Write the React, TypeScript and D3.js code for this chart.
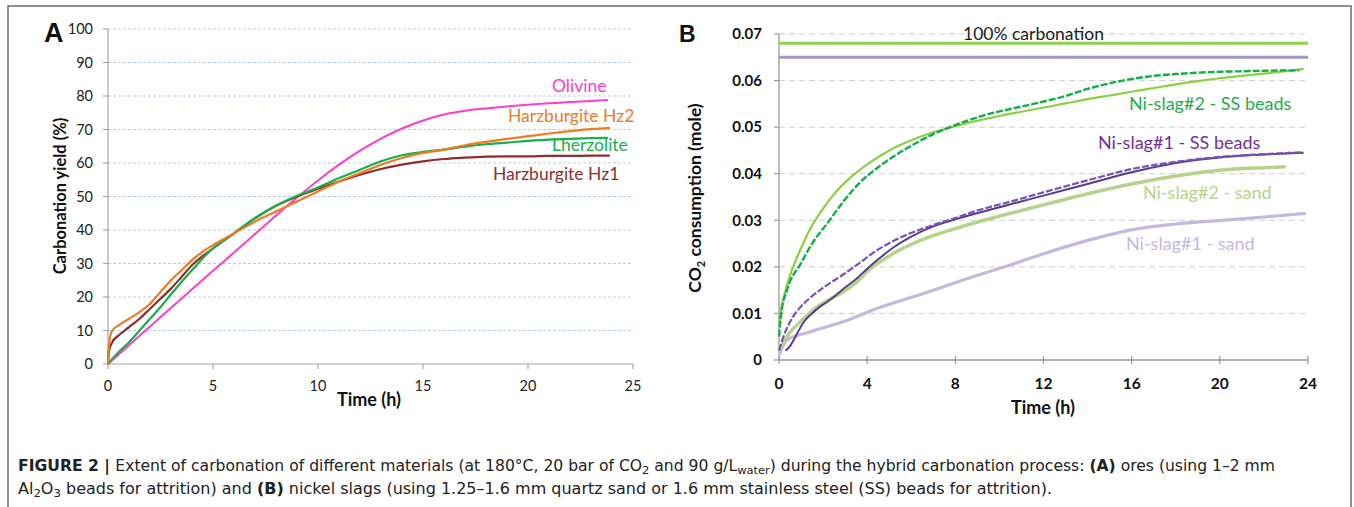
import React from "react";
import * as d3 from "d3";

// ---------- Panel A data ----------
const aXTicks = [0, 5, 10, 15, 20, 25];
const aYTicks = [0, 10, 20, 30, 40, 50, 60, 70, 80, 90, 100];

const olivineT = [0, 1, 2, 3, 4, 5, 6, 7, 8, 9, 10, 11, 12, 13, 14, 15, 16, 17, 18, 19, 20, 21, 22, 23, 23.8];
const olivineV = [0, 5.6, 11.2, 16.8, 22.3, 27.8, 33.3, 38.8, 44.3, 49.7, 54.8, 59.5, 63.7, 67.3, 70.3, 72.7, 74.5, 75.6, 76.3, 76.9, 77.4, 77.8, 78.2, 78.5, 78.8];

const hz2T = [0, 0.05, 0.2, 0.5, 1, 1.5, 2, 2.5, 3, 3.5, 4, 4.5, 5, 6, 7, 8, 9, 10, 11, 12, 13, 14, 15, 16, 17, 18, 19, 20, 21, 22, 23, 23.9];
const hz2V = [0, 6, 10, 11.5, 13.5, 15.5, 18, 21.5, 25, 28, 31, 33.5, 35.5, 39, 42.5, 45.5, 48.5, 51.5, 54.5, 57, 59.5, 61.5, 63, 64, 65.3, 66.3, 67.2, 68, 68.8, 69.5, 70.1, 70.5];

const lherzT = [0, 0.2, 0.5, 1, 1.5, 2, 2.5, 3, 3.5, 4, 4.5, 5, 6, 7, 8, 9, 10, 11, 12, 13, 14, 15, 16, 17, 18, 19, 20, 21, 22, 23, 23.8];
const lherzV = [0, 1.5, 3.5, 6.5, 10, 13.5, 17, 20.8, 24.5, 28, 31.5, 34.5, 39, 43.5, 47.3, 50.2, 52.7, 55.5, 58, 60.5, 62.3, 63.3, 64, 64.9, 65.6, 66.1, 66.6, 67, 67.2, 67.4, 67.5];

const hz1T = [0, 0.05, 0.2, 0.5, 1, 1.5, 2, 2.5, 3, 3.5, 4, 5, 6, 7, 8, 9, 10, 11, 12, 13, 14, 15, 16, 17, 18, 19, 20, 21, 22, 23, 23.9];
const hz1V = [0, 4, 6.5, 8.5, 11, 13.5, 16.5, 19.5, 22.5, 26, 29.5, 34.5, 39, 43.5, 47.2, 50, 52.3, 54.5, 56.5, 58.2, 59.5, 60.5, 61.2, 61.6, 61.9, 62, 62, 62.1, 62.1, 62.2, 62.2];

// ---------- Panel B data ----------
const bXTicks = [0, 4, 8, 12, 16, 20, 24];
const bYTicks = [0, 0.01, 0.02, 0.03, 0.04, 0.05, 0.06, 0.07];
const bYTickLabels = ["0", "0.01", "0.02", "0.03", "0.04", "0.05", "0.06", "0.07"];

const full2 = 0.068; // 100% carbonation Ni-slag#2
const full1 = 0.065; // 100% carbonation Ni-slag#1

const limeT = [0, 0.1, 0.3, 0.6, 1, 1.4, 2, 2.6, 3.2, 4, 5, 6, 7, 8, 9, 10, 11, 12, 13, 14, 15, 16, 17, 18, 19, 20, 21, 22, 23, 23.8];
const limeV = [0.008, 0.011, 0.015, 0.0195, 0.024, 0.028, 0.0325, 0.0362, 0.039, 0.042, 0.045, 0.0472, 0.0489, 0.0502, 0.0514, 0.0524, 0.0533, 0.0542, 0.0551, 0.056, 0.0568, 0.0576, 0.0584, 0.0592, 0.0599, 0.0605, 0.061, 0.0615, 0.062, 0.0625];

const ss2T = [0, 0.1, 0.36, 1, 1.5, 2.2, 3, 3.67, 4.5, 5.2, 6, 7, 8.2, 9.5, 10.5, 12, 13, 14, 15.6, 17, 18, 19, 20, 21, 22, 23, 23.6];
const ss2V = [0.005, 0.01, 0.015, 0.0208, 0.025, 0.0294, 0.0345, 0.0381, 0.0414, 0.0437, 0.046, 0.0485, 0.0508, 0.0528, 0.0539, 0.0555, 0.0567, 0.0582, 0.06, 0.061, 0.0614, 0.0617, 0.0619, 0.062, 0.0621, 0.0622, 0.0622];

const ss1T = [0, 0.2, 0.6, 1, 1.4, 2, 2.9, 3.5, 4.4, 5.5, 6.7, 8, 9, 10.5, 12, 14.1, 16, 18.6, 20, 22, 23.7];
const ss1V = [0.002, 0.005, 0.009, 0.0115, 0.0133, 0.0155, 0.0183, 0.0203, 0.0234, 0.0263, 0.0285, 0.0305, 0.0321, 0.034, 0.036, 0.0387, 0.041, 0.0429, 0.0436, 0.0442, 0.0446];

const ss1bT = [0.3, 0.5, 0.8, 1.1, 1.5, 1.85, 2.4, 2.9, 3.5, 4, 4.6, 5.2, 6, 7, 8, 10, 12, 14, 16, 18, 20, 22, 23.8];
const ss1bV = [0.002, 0.003, 0.0055, 0.008, 0.01, 0.0114, 0.0132, 0.0152, 0.0174, 0.0196, 0.022, 0.0242, 0.0265, 0.0287, 0.0302, 0.0328, 0.0353, 0.0378, 0.0403, 0.0423, 0.0435, 0.0441, 0.0445];

const sand2T = [0, 0.36, 1.1, 1.85, 2.4, 2.9, 3.5, 4, 5.2, 6.7, 8.2, 10.5, 12, 14.1, 16, 18, 20.1, 22, 23];
const sand2V = [0.002, 0.005, 0.0088, 0.0118, 0.0133, 0.0146, 0.0166, 0.019, 0.0229, 0.0262, 0.0285, 0.0315, 0.0333, 0.0358, 0.0378, 0.0395, 0.0408, 0.0413, 0.0415];

const sand1T = [0, 0.36, 1.4, 2.9, 4.4, 6.7, 9, 10.5, 11.8, 14.1, 16.3, 18, 20.1, 22, 23.9];
const sand1V = [0.001, 0.0043, 0.006, 0.0082, 0.011, 0.0145, 0.0182, 0.0204, 0.0225, 0.0258, 0.0282, 0.0292, 0.03, 0.0307, 0.0315];

const FONT = "Lato, 'Open Sans', sans-serif";

function zip(t: number[], v: number[]): [number, number][] {
  return t.map((x, i) => [x, v[i]]);
}

export default function App() {
  // Panel A scales
  const ax = d3.scaleLinear().domain([0, 25]).range([108, 633]);
  const ay = d3.scaleLinear().domain([0, 100]).range([364, 29]);
  const aLine = d3
    .line<[number, number]>()
    .x((d) => ax(d[0]))
    .y((d) => ay(d[1]))
    .curve(d3.curveMonotoneX);

  // Panel B scales
  const bx = d3.scaleLinear().domain([0, 24]).range([779, 1308]);
  const by = d3.scaleLinear().domain([0, 0.07]).range([360, 34]);
  const bLine = d3
    .line<[number, number]>()
    .x((d) => bx(d[0]))
    .y((d) => by(d[1]))
    .curve(d3.curveMonotoneX);

  const aSeries = [
    { t: olivineT, v: olivineV, c: "#ff3ccc", w: 2 },
    { t: hz1T, v: hz1V, c: "#8e2f2f", w: 2.2 },
    { t: lherzT, v: lherzV, c: "#16b04a", w: 2.2 },
    { t: hz2T, v: hz2V, c: "#ef7a22", w: 2.2 },
  ];

  const bSeries = [
    { t: sand1T, v: sand1V, c: "#c6b7df", w: 3.2, dash: "" },
    { t: sand2T, v: sand2V, c: "#b5d38a", w: 3.5, dash: "" },
    { t: ss1bT, v: ss1bV, c: "#5a3c8c", w: 2, dash: "" },
    { t: ss1T, v: ss1V, c: "#7b52b3", w: 2.2, dash: "7,2" },
    { t: limeT, v: limeV, c: "#8ccf45", w: 2.2, dash: "" },
    { t: ss2T, v: ss2V, c: "#14ad4a", w: 2.4, dash: "7,2" },
  ];

  return (
    <svg
      width={1354}
      height={507}
      style={{ position: "absolute", left: 0, top: 0, background: "#fff" }}
      fontFamily={FONT}
    >
      <rect x={0} y={0} width={1354} height={507} fill="#fff" />
      <rect x={8} y={6} width={1343} height={540} fill="none" stroke="#6b6b6b" strokeWidth={1.5} />

      {/* ---------------- Panel A ---------------- */}
      <g>
        {aYTicks.slice(1).map((t) => (
          <line key={"ag" + t} x1={ax(0)} x2={ax(25)} y1={ay(t)} y2={ay(t)} stroke="#b9cbeb" strokeWidth={1} strokeDasharray="3,2" />
        ))}
        <line x1={ax(0)} x2={ax(0)} y1={ay(0)} y2={ay(100)} stroke="#a6a6a6" strokeWidth={1.2} />
        <line x1={ax(0)} x2={ax(25)} y1={ay(0)} y2={ay(0)} stroke="#a6a6a6" strokeWidth={1.2} />
        {aYTicks.map((t) => (
          <g key={"ayt" + t}>
            <line x1={ax(0) - 5} x2={ax(0)} y1={ay(t)} y2={ay(t)} stroke="#a6a6a6" strokeWidth={1.2} />
            <text x={ax(0) - 15} y={ay(t)} dy="0.35em" textAnchor="end" fontSize={14.5} fill="#222">
              {t}
            </text>
          </g>
        ))}
        {aXTicks.map((t) => (
          <g key={"axt" + t}>
            <line x1={ax(t)} x2={ax(t)} y1={ay(0)} y2={ay(0) + 5} stroke="#a6a6a6" strokeWidth={1.2} />
            <text x={ax(t)} y={ay(0) + 27} textAnchor="middle" fontSize={14.5} fill="#222">
              {t}
            </text>
          </g>
        ))}
        <text x={369} y={406} textAnchor="middle" fontSize={18} fontWeight="bold" fill="#111">
          Time (h)
        </text>
        <text
          transform="translate(66,196) rotate(-90)"
          textAnchor="middle"
          fontSize={16.5}
          fontWeight="bold"
          fill="#111"
        >
          Carbonation yield (%)
        </text>
        <text x={44} y={42} fontSize={27} fontWeight="bold" fontFamily="'Liberation Sans', Arial, sans-serif" fill="#111">
          A
        </text>

        {aSeries.map((s, i) => (
          <path key={"as" + i} d={aLine(zip(s.t, s.v)) || ""} fill="none" stroke={s.c} strokeWidth={s.w} />
        ))}

        <text x={552} y={92} fontSize={17.5} fill="#ff3ccc">Olivine</text>
        <text x={508} y={122} fontSize={17.5} fill="#ef7a22">Harzburgite Hz2</text>
        <text x={552} y={151} fontSize={17.5} fill="#16b04a">Lherzolite</text>
        <text x={493} y={180} fontSize={17.5} fill="#8e2f2f">Harzburgite Hz1</text>
      </g>

      {/* ---------------- Panel B ---------------- */}
      <g>
        {bYTicks.slice(1).map((t) => (
          <line key={"bg" + t} x1={bx(0)} x2={bx(24)} y1={by(t)} y2={by(t)} stroke="#cfcfcf" strokeWidth={1} strokeDasharray="6,4" />
        ))}
        <line x1={bx(0)} x2={bx(0)} y1={by(0)} y2={by(0.07)} stroke="#999" strokeWidth={1.3} />
        <line x1={bx(0)} x2={bx(24)} y1={by(0)} y2={by(0)} stroke="#999" strokeWidth={1.3} />
        {bYTicks.map((t, i) => (
          <g key={"byt" + t}>
            <line x1={bx(0) - 5} x2={bx(0)} y1={by(t)} y2={by(t)} stroke="#999" strokeWidth={1.2} />
            <text x={bx(0) - 17} y={by(t)} dy="0.35em" textAnchor="end" fontSize={15} fontWeight="bold" fill="#111">
              {bYTickLabels[i]}
            </text>
          </g>
        ))}
        {bXTicks.map((t) => (
          <g key={"bxt" + t}>
            <line x1={bx(t)} x2={bx(t)} y1={by(0) - 4} y2={by(0) + 4} stroke="#999" strokeWidth={1.2} />
            <text x={bx(t)} y={by(0) + 29} textAnchor="middle" fontSize={15.5} fontWeight="bold" fill="#111">
              {t}
            </text>
          </g>
        ))}
        <text x={1043} y={414} textAnchor="middle" fontSize={18} fontWeight="bold" fill="#111">
          Time (h)
        </text>
        <text
          transform="translate(701,198) rotate(-90)"
          textAnchor="middle"
          fontSize={17.5}
          fontWeight="bold"
          fill="#111"
        >
          CO<tspan fontSize={11} dy={4}>2</tspan>
          <tspan dy={-4}> consumption (mole)</tspan>
        </text>
        <text x={679} y={42} fontSize={23} fontWeight="bold" fontFamily="'Liberation Sans', Arial, sans-serif" fill="#111">
          B
        </text>

        <line x1={bx(0)} x2={bx(24)} y1={by(full2)} y2={by(full2)} stroke="#8fd14f" strokeWidth={3} />
        <line x1={bx(0)} x2={bx(24)} y1={by(full1)} y2={by(full1)} stroke="#a595c9" strokeWidth={3} />
        <text x={963} y={40} fontSize={17.5} fill="#1a1a1a">100% carbonation</text>

        {bSeries.map((s, i) => (
          <path
            key={"bs" + i}
            d={bLine(zip(s.t, s.v)) || ""}
            fill="none"
            stroke={s.c}
            strokeWidth={s.w}
            strokeDasharray={s.dash || undefined}
          />
        ))}

        <text x={1129} y={110} fontSize={18} fill="#1fae4d">Ni-slag#2 - SS beads</text>
        <text x={1098} y={149} fontSize={18} fill="#7030a0">Ni-slag#1 - SS beads</text>
        <text x={1143} y={199} fontSize={18} fill="#b5d38a">Ni-slag#2 - sand</text>
        <text x={1126} y={250} fontSize={18} fill="#c6b7df">Ni-slag#1 - sand</text>
      </g>

      {/* ---------------- Caption ---------------- */}
      <g fontFamily="'Liberation Sans Narrow', 'DejaVu Sans Condensed', 'Liberation Sans', sans-serif" fontSize={15} fill="#222">
        <text x={18} y={471} textLength={1257} lengthAdjust="spacingAndGlyphs">
          <tspan fontWeight="bold">FIGURE 2 | </tspan>
          <tspan>Extent of carbonation of different materials (at 180°C, 20 bar of CO</tspan>
          <tspan fontSize={11} dy={3}>2</tspan>
          <tspan dy={-3}> and 90 g/L</tspan>
          <tspan fontSize={11} dy={3}>water</tspan>
          <tspan dy={-3}>) during the hybrid carbonation process: </tspan>
          <tspan fontWeight="bold">(A)</tspan>
          <tspan> ores (using 1–2 mm</tspan>
        </text>
        <text x={18} y={494} textLength={1034} lengthAdjust="spacingAndGlyphs">
          <tspan>Al</tspan>
          <tspan fontSize={11} dy={3}>2</tspan>
          <tspan dy={-3}>O</tspan>
          <tspan fontSize={11} dy={3}>3</tspan>
          <tspan dy={-3}> beads for attrition) and </tspan>
          <tspan fontWeight="bold">(B)</tspan>
          <tspan> nickel slags (using 1.25–1.6 mm quartz sand or 1.6 mm stainless steel (SS) beads for attrition).</tspan>
        </text>
      </g>
    </svg>
  );
}
